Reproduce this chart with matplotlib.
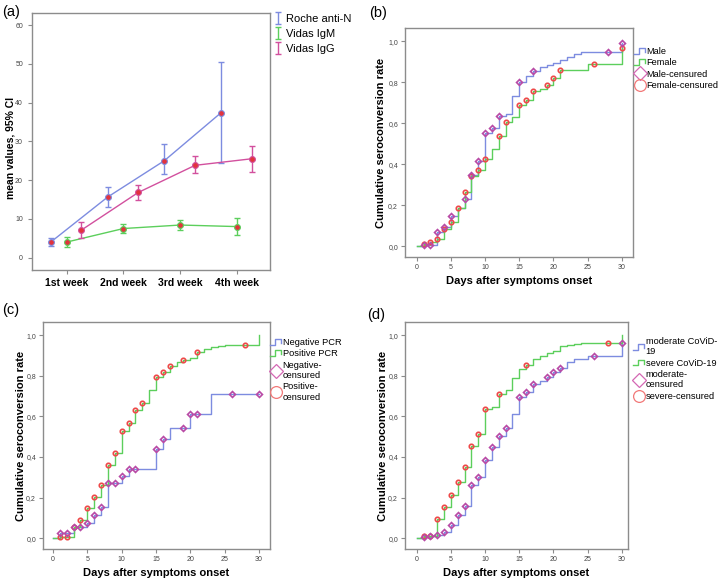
import numpy as np
import matplotlib
matplotlib.use("Agg")
import matplotlib.pyplot as plt
from matplotlib.lines import Line2D
from matplotlib.path import Path
from matplotlib.legend_handler import HandlerBase
from matplotlib.ticker import FuncFormatter

plt.rcParams['font.family'] = ['Liberation Sans', 'DejaVu Sans']

# ---- (a) mean values with 95% CI ----
weeks = ["1st week", "2nd week", "3rd week", "4th week"]
roche_mean = [4.0, 15.6, 25.0, 37.4]
roche_lo = [2.9, 13.0, 21.6, 24.3]
roche_hi = [5.0, 18.1, 29.3, 50.5]
igm_mean = [4.0, 7.5, 8.4, 8.0]
igm_lo = [2.7, 6.3, 7.0, 5.8]
igm_hi = [5.2, 8.6, 9.6, 10.1]
igg_mean = [7.1, 16.8, 23.8, 25.5]
igg_lo = [5.0, 14.9, 21.8, 22.0]
igg_hi = [9.3, 18.7, 26.1, 28.8]

# ---- (b) sex ----
male_days = [1, 3, 4, 5, 6, 7, 8, 9, 10, 11, 12, 13, 14, 15, 16, 17, 18, 19, 20, 21, 22, 23, 24, 30]
male_vals = [0.005, 0.068, 0.093, 0.149, 0.188, 0.232, 0.349, 0.414, 0.551, 0.578, 0.637, 0.645,
             0.735, 0.80, 0.83, 0.857, 0.874, 0.885, 0.895, 0.908, 0.925, 0.938, 0.95, 0.99]
male_cens = [1, 2, 3, 4, 5, 7, 8, 9, 10, 11, 12, 15, 17, 28, 30]
female_days = [1, 2, 3, 4, 5, 6, 7, 8, 9, 10, 11, 12, 13, 14, 15, 16, 17, 18, 19, 20, 21, 25, 30]
female_vals = [0.012, 0.018, 0.033, 0.083, 0.116, 0.188, 0.265, 0.344, 0.37, 0.424, 0.476, 0.54,
               0.607, 0.632, 0.688, 0.715, 0.755, 0.768, 0.787, 0.82, 0.862, 0.89, 0.965]
female_cens = [1, 2, 3, 4, 5, 6, 7, 8, 9, 10, 12, 13, 15, 16, 17, 19, 20, 21, 26, 30]

# ---- (c) PCR ----
neg_days = [1, 3, 5, 6, 7, 8, 10, 11, 15, 16, 17, 20, 23]
neg_vals = [0.025, 0.055, 0.076, 0.114, 0.153, 0.274, 0.307, 0.343, 0.438, 0.49, 0.544, 0.611, 0.709]
neg_cens = [1, 2, 3, 4, 5, 6, 7, 8, 9, 10, 11, 12, 15, 16, 19, 20, 21, 26, 30]
pos_days = [1, 3, 4, 5, 6, 7, 8, 9, 10, 11, 12, 13, 14, 15, 16, 17, 18, 19, 20, 21, 22, 23, 24, 25, 30]
pos_vals = [0.004, 0.054, 0.092, 0.147, 0.203, 0.263, 0.363, 0.418, 0.528, 0.567, 0.632, 0.667,
            0.732, 0.796, 0.817, 0.85, 0.866, 0.879, 0.89, 0.918, 0.931, 0.94, 0.948, 0.953, 1.0]
pos_cens = [1, 2, 3, 4, 5, 6, 7, 8, 9, 10, 11, 12, 13, 15, 16, 17, 19, 21, 28]

# ---- (d) severity ----
mod_days = [1, 2, 3, 4, 5, 6, 7, 8, 9, 10, 11, 12, 13, 14, 15, 16, 17, 18, 19, 20, 21, 22, 23, 25, 30]
mod_vals = [0.007, 0.011, 0.016, 0.03, 0.065, 0.115, 0.159, 0.264, 0.303, 0.383, 0.447, 0.504,
            0.544, 0.61, 0.695, 0.722, 0.761, 0.776, 0.795, 0.821, 0.838, 0.866, 0.882, 0.9, 0.962]
mod_cens = [1, 2, 3, 4, 5, 6, 7, 8, 9, 10, 11, 12, 13, 15, 16, 17, 19, 20, 21, 26, 30]
sev_days = [1, 2, 3, 4, 5, 6, 7, 8, 9, 10, 11, 12, 13, 14, 15, 16, 17, 18, 19, 20, 21, 22, 23, 24, 30]
sev_vals = [0.01, 0.013, 0.093, 0.155, 0.212, 0.275, 0.351, 0.453, 0.511, 0.637, 0.645, 0.712,
            0.73, 0.79, 0.833, 0.853, 0.885, 0.898, 0.91, 0.922, 0.945, 0.952, 0.958, 0.962, 1.0]
sev_cens = [1, 2, 3, 4, 5, 6, 7, 8, 9, 10, 12, 16, 28]

BLUE = "#7d8ce0"
GREEN = "#5ccf5c"
PINK = "#d2509e"
DIAM = "#b94aa6"
CIRC = "#ee4848"
SPINE = "#8c8c8c"

# error-bar glyph for the legend of (a)
ibar = Path([(-0.45, -1), (0.45, -1), (0, -1), (0, 1), (-0.45, 1), (0.45, 1)],
            [Path.MOVETO, Path.LINETO, Path.MOVETO, Path.LINETO, Path.MOVETO, Path.LINETO])


class StepLine(Line2D):
    pass


class StepHandler(HandlerBase):
    # little step glyph like the SPSS legend
    def create_artists(self, legend, orig, xd, yd, width, height, fontsize, trans):
        xs = [xd, xd + width * 0.45, xd + width * 0.45, xd + width, xd + width]
        ys = [yd + height * 0.05, yd + height * 0.05, yd + height * 0.95,
              yd + height * 0.95, yd + height * 0.3]
        ln = Line2D(xs, ys, color=orig.get_color(), lw=1.0)
        ln.set_transform(trans)
        return [ln]


def style_spines(ax):
    for s in ax.spines.values():
        s.set_color(SPINE)
        s.set_linewidth(1.0)


def y_at(days, vals, d):
    i = np.searchsorted(days, d, side="right") - 1
    return vals[i] if i >= 0 else 0.0


fig = plt.figure(figsize=(7.2, 5.82), dpi=100)

# ---------------- (a) ----------------
ax = fig.add_axes([32 / 720, 1 - 270 / 582, 238 / 720, 257 / 582])
xpos = np.arange(1, 5)
series = [(roche_mean, roche_lo, roche_hi, BLUE, -0.28, "Roche anti-N"),
          (igm_mean, igm_lo, igm_hi, GREEN, 0.0, "Vidas IgM"),
          (igg_mean, igg_lo, igg_hi, PINK, 0.26, "Vidas IgG")]
handles = []
for m, lo, hi, c, off, lab in series:
    m = np.array(m); lo = np.array(lo); hi = np.array(hi)
    x = xpos + off
    ax.plot(x, m, color=c, lw=1.0)
    ax.errorbar(x, m, yerr=[m - lo, hi - m], fmt="none", ecolor=c, elinewidth=1.0,
                capsize=2.5, capthick=1.0)
    ax.plot(x, m, "o", ms=4.2, mfc="#e2333d", mec=c, mew=0.8, zorder=5)
    handles.append(Line2D([], [], color=c, marker=ibar, ms=9, mfc="none", mew=1.0,
                          ls="none", label=lab))
ax.set_xlim(0.39, 4.58)
ax.set_ylim(-3.2, 63.1)
ax.set_xticks(xpos)
ax.set_xticklabels(weeks, fontsize=7.5, fontweight="bold")
ax.set_yticks(range(0, 61, 10))
ax.tick_params(axis="y", labelsize=5, length=3, color=SPINE, labelcolor="#444")
ax.tick_params(axis="x", length=3, color=SPINE, pad=3)
ax.set_ylabel("mean values, 95% CI", fontsize=7.5, fontweight="bold")
ax.yaxis.set_label_coords(-0.07, 0.475)
style_spines(ax)
fig.legend(handles=handles, loc="upper left", bbox_to_anchor=(273 / 720, 1 - 14 / 582),
           frameon=False, fontsize=8, handlelength=0.9, handletextpad=0.3,
           labelspacing=0.45, borderpad=0, borderaxespad=0)
fig.text(2 / 720, 1 - 12 / 582, "(a)", fontsize=10.5, va="center", ha="left")


# ---------------- KM panels ----------------
def km_panel(rect, g1, g2, labels, xlim, ylab_x, leg_xy, tag, tag_xy):
    ax = fig.add_axes(rect)
    for (days, vals, cens, col) in (g1, g2):
        xs = np.r_[0, days, 30]
        ys = np.r_[0, vals, vals[-1]]
        ax.step(xs, ys, where="post", color=col, lw=1.0)
    d1, v1, c1, _ = g1
    d2, v2, c2, _ = g2
    ax.plot(c2, [y_at(d2, v2, d) for d in c2], "o", ms=3.2, mfc="none", mec=CIRC, mew=1.2, zorder=5)
    ax.plot(c1, [y_at(d1, v1, d) for d in c1], "D", ms=3.0, mfc="none", mec=DIAM, mew=1.2, zorder=6)
    ax.set_xlim(*xlim)
    ax.set_ylim(-0.053, 1.065)
    ax.set_xticks(range(0, 31, 5))
    ax.set_yticks(np.arange(0, 1.01, 0.2))
    ax.yaxis.set_major_formatter(FuncFormatter(lambda v, _: f"{v:.1f}".replace(".", ",")))
    ax.tick_params(labelsize=5, length=3, color=SPINE, labelcolor="#444", pad=2)
    ax.set_xlabel("Days after symptoms onset", fontsize=8, fontweight="bold")
    ax.set_ylabel("Cumulative seroconversion rate", fontsize=8, fontweight="bold")
    ax.xaxis.set_label_coords(0.5, -0.085)
    ax.yaxis.set_label_coords(ylab_x, 0.5)
    style_spines(ax)
    hs = [StepLine([], [], color=BLUE, label=labels[0]),
          StepLine([], [], color=GREEN, label=labels[1]),
          Line2D([], [], color="#d468b4", marker="D", ms=7.5, mfc="none", mew=0.9, ls="none", label=labels[2]),
          Line2D([], [], color="#f27878", marker="o", ms=8.5, mfc="none", mew=0.9, ls="none", label=labels[3])]
    fig.legend(handles=hs, loc="upper left", bbox_to_anchor=(leg_xy[0] / 720, 1 - leg_xy[1] / 582),
               frameon=False, fontsize=6.7, handlelength=1.2, handletextpad=0.15, labelspacing=0.25,
               borderpad=0, borderaxespad=0, handler_map={StepLine: StepHandler()})
    fig.text(tag_xy[0] / 720, 1 - tag_xy[1] / 582, tag, fontsize=10.5, va="center", ha="left")
    return ax


km_panel([405 / 720, 1 - 257 / 582, 228 / 720, 229 / 582],
         (male_days, male_vals, male_cens, BLUE), (female_days, female_vals, female_cens, GREEN),
         ["Male", "Female", "Male-censured", "Female-censured"],
         (-1.71, 31.65), -0.083, (634, 47), "(b)", (369, 13))
km_panel([43 / 720, 1 - 549 / 582, 227 / 720, 227 / 582],
         (neg_days, neg_vals, neg_cens, BLUE), (pos_days, pos_vals, pos_cens, GREEN),
         ["Negative PCR", "Positive PCR", "Negative-\ncensured", "Positive-\ncensured"],
         (-1.46, 31.6), -0.075, (270, 338), "(c)", (2, 310))
km_panel([405 / 720, 1 - 549 / 582, 223 / 720, 227 / 582],
         (mod_days, mod_vals, mod_cens, BLUE), (sev_days, sev_vals, sev_cens, GREEN),
         ["moderate CoViD-\n19", "severe CoViD-19", "moderate-\ncensured", "severe-censured"],
         (-1.71, 30.92), -0.076, (633, 337), "(d)", (367, 315))

fig.savefig("out.png", dpi=100)
